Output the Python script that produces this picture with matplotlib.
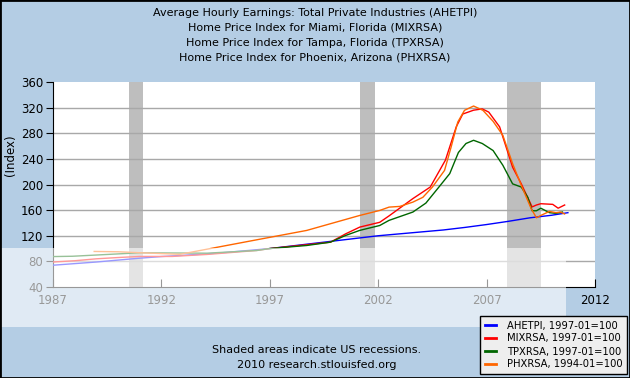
import matplotlib
matplotlib.use('Agg')
import matplotlib.pyplot as plt
from matplotlib.patches import Rectangle
import numpy as np

# ---- data ----
ahetpi_yr = [1987.0, 1988, 1989, 1990, 1991, 1992, 1993, 1994, 1995, 1996, 1997, 1998, 1999,
             2000, 2001, 2002, 2003, 2004, 2005, 2006, 2007, 2008, 2009, 2010, 2010.75]
ahetpi = [74, 76.5, 79, 82, 85, 87.5, 89.5, 91.5, 94, 97, 100, 104, 108,
          112, 116, 120, 123, 126, 129, 133, 137.5, 142.5, 148, 152, 156]

mia_yr = [1987.0, 1988, 1989, 1990, 1991, 1992.5, 1994.1, 1996.4, 1997, 1998.7, 1999.8, 2000.5,
          2001.15, 2002.07, 2002.5, 2003.6, 2004.4, 2005.1, 2005.6, 2005.9, 2006.4, 2006.8, 2007.1,
          2007.6, 2008.2, 2008.6, 2009.1, 2009.3, 2009.5, 2010.05, 2010.3, 2010.6]
mia = [79, 81, 84, 86, 87.7, 87.7, 90.8, 97, 100, 106, 110, 123,
       133.5, 141, 151, 178, 196, 238, 290, 310, 316, 318, 313,
       290, 227, 201, 165, 168, 170, 169, 163, 168]

tpa_yr = [1987.0, 1987.9, 1991, 1994.1, 1996.4, 1997, 1998.7, 1999.8, 2000.5, 2001.15, 2002.07,
          2002.5, 2003.6, 2004.2, 2004.8, 2005.3, 2005.7, 2006.05, 2006.4, 2006.8, 2007.3, 2007.75,
          2008.2, 2008.6, 2008.9, 2009.1, 2009.3, 2009.5, 2009.9, 2010.2, 2010.5]
tpa = [87.5, 88, 93.4, 92.8, 97, 100, 104.8, 110, 120.5, 128.4, 136,
       144, 157, 171, 196, 217, 250, 264, 269, 264, 253, 230,
       201, 196, 180, 159, 159, 163, 156, 155, 157]

phx_yr = [1988.9, 1990, 1991, 1992.85, 1994.1, 1996.4, 1998.7, 2001.15, 2002.07, 2002.5, 2003.0,
          2003.6, 2004.06, 2004.5, 2005.06, 2005.36, 2005.67, 2005.98, 2006.4, 2006.83, 2007.3,
          2007.75, 2008.2, 2008.6, 2009.06, 2009.3, 2009.5, 2009.9, 2010.2, 2010.4, 2010.6]
phx = [95.5, 95, 93.5, 91, 99, 113.7, 128.3, 151.7, 159.5, 164.7, 165.8,
       172.5, 180, 196, 222, 258, 297.5, 315.8, 322.5, 315.8, 298.6,
       276.7, 232.5, 198.6, 162, 148, 151.7, 158, 156, 157, 154]

recessions = [(1990.5, 1991.17), (2001.17, 2001.83), (2007.92, 2009.5)]

titles = ['Average Hourly Earnings: Total Private Industries (AHETPI)',
          'Home Price Index for Miami, Florida (MIXRSA)',
          'Home Price Index for Tampa, Florida (TPXRSA)',
          'Home Price Index for Phoenix, Arizona (PHXRSA)']
labels = ['AHETPI, 1997-01=100', 'MIXRSA, 1997-01=100',
          'TPXRSA, 1997-01=100', 'PHXRSA, 1994-01=100']
colors = ['#0000FF', '#FF0000', '#006600', '#FF6600']

W, H = 630, 378
bg = '#B4CDE4'
fig = plt.figure(figsize=(W / 100, H / 100), dpi=100, facecolor=bg)
ax = fig.add_axes([53 / W, 1 - 287 / H, (595 - 53) / W, (287 - 82) / H])
ax.set_facecolor('white')

for a, b in recessions:
    ax.axvspan(a, b, color='#BEBEBE', lw=0, zorder=1)

for v in range(80, 360, 40):
    ax.axhline(v, color='#A8A8A8', lw=1, zorder=2)

ax.plot(ahetpi_yr, ahetpi, color=colors[0], lw=1, zorder=3)
ax.plot(mia_yr, mia, color=colors[1], lw=1, zorder=3)
ax.plot(tpa_yr, tpa, color=colors[2], lw=1, zorder=3)
ax.plot(phx_yr, phx, color=colors[3], lw=1, zorder=3)

ax.set_xlim(1987, 2012)
ax.set_ylim(40, 360)
ax.set_yticks(range(40, 361, 40))
ax.set_xticks(range(1987, 2013, 5))
for s in ['top', 'right']:
    ax.spines[s].set_visible(False)
ax.tick_params(axis='y', direction='out', length=5, labelsize=8.5, pad=2)
ax.tick_params(axis='x', direction='in', length=6, labelsize=8.5, pad=5)
fig.text(11 / W, 1 - 155 / H, '(Index)', rotation=90, ha='center', va='center', fontsize=8.5)

for i, t in enumerate(titles):
    fig.text(0.5, 1 - (13 + 15 * i) / H, t, ha='center', va='center', fontsize=8)

fig.text(317 / W, 1 - 350 / H, 'Shaded areas indicate US recessions.', ha='center', va='center', fontsize=8)
fig.text(317 / W, 1 - 365 / H, '2010 research.stlouisfed.org', ha='center', va='center', fontsize=8)

handles = [plt.Line2D([], [], color=c, lw=2) for c in colors]
leg = fig.legend(handles, labels, loc='lower right', bbox_to_anchor=(627 / W, 4 / H),
                 borderaxespad=0, fontsize=7.2, frameon=True, fancybox=False,
                 handlelength=1.1, handletextpad=1.1, labelspacing=0.3, borderpad=0.45)
leg.get_frame().set_edgecolor('black')
leg.get_frame().set_facecolor('#EEEEEE')
leg.get_frame().set_alpha(1)

# light band over the lower part of the picture
fig.patches.append(Rectangle((0, 1 - 327 / H), 566 / W, 79 / H, transform=fig.transFigure,
                             facecolor='white', alpha=0.6, lw=0, zorder=5))
# outer border
fig.patches.append(Rectangle((0, 0), 1, 1, transform=fig.transFigure, fill=False,
                             edgecolor='black', lw=2, zorder=6))

fig.savefig('out.png', dpi=100, facecolor=bg)
